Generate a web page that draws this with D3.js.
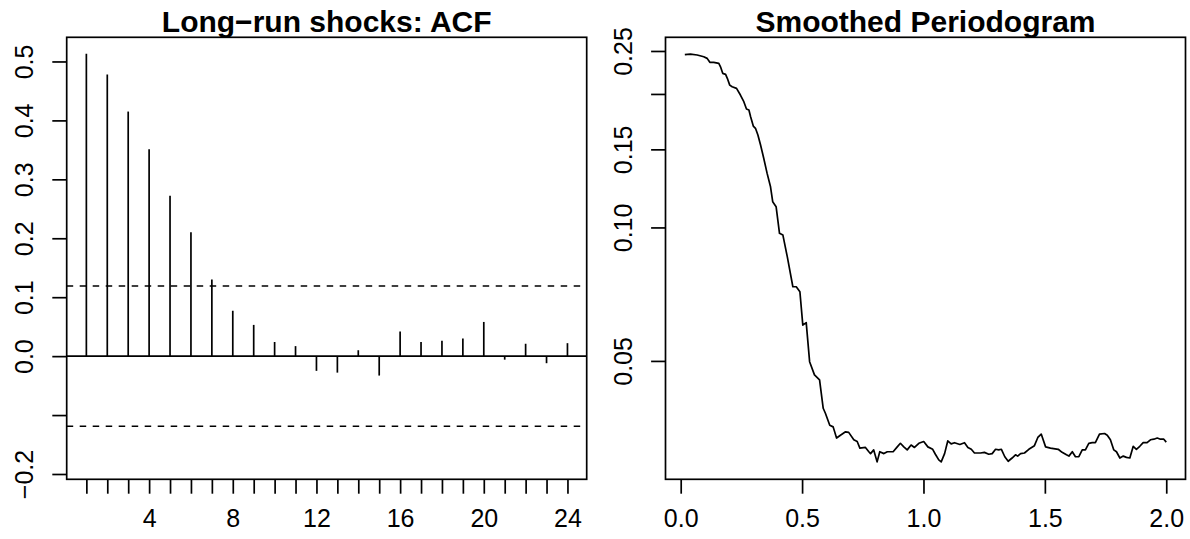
<!DOCTYPE html>
<html>
<head>
<meta charset="utf-8">
<script src="https://cdn.jsdelivr.net/npm/d3@7"></script>
<style>
  body { margin: 0; background: #fff; }
  svg { display: block; font-family: "Liberation Sans", Arial, Helvetica, sans-serif; }
</style>
</head>
<body>
<svg id="chart" width="1190" height="539"></svg>
<script>
// left panel: autocorrelations by lag
const acfLags = [1, 2, 3, 4, 5, 6, 7, 8, 9, 10, 11, 12, 13, 14, 15, 16, 17, 18, 19, 20, 21, 22, 23, 24];
const acfValues = [0.513, 0.478, 0.415, 0.351, 0.272, 0.21, 0.13, 0.077, 0.053, 0.024, 0.017, -0.025,
  -0.028, 0.01, -0.033, 0.042, 0.024, 0.026, 0.03, 0.058, -0.006, 0.021, -0.012, 0.022];
const acfCiBound = 0.119;
const lagTicks = [1, 2, 3, 4, 5, 6, 7, 8, 9, 10, 11, 12, 13, 14, 15, 16, 17, 18, 19, 20, 21, 22, 23, 24];
const lagLabels = [4, 8, 12, 16, 20, 24];
const acfTicks = [-0.2, -0.1, 0, 0.1, 0.2, 0.3, 0.4, 0.5];
const acfLabels = [-0.2, 0, 0.1, 0.2, 0.3, 0.4, 0.5];

// right panel: smoothed periodogram (log y)
const specFreq = [0.017, 0.04, 0.068, 0.095, 0.109, 0.12, 0.136, 0.157, 0.164, 0.173, 0.185, 0.192,
  0.202, 0.212, 0.23, 0.246, 0.26, 0.271, 0.281, 0.288, 0.299, 0.308, 0.318, 0.329, 0.342, 0.356,
  0.37, 0.379, 0.393, 0.407, 0.421, 0.439, 0.462, 0.476, 0.491, 0.503, 0.517, 0.531, 0.551, 0.572,
  0.587, 0.596, 0.614, 0.628, 0.642, 0.658, 0.679, 0.692, 0.713, 0.727, 0.738, 0.761, 0.775, 0.782,
  0.795, 0.809, 0.82, 0.837, 0.851, 0.875, 0.892, 0.905, 0.919, 0.933, 0.949, 0.963, 0.981, 1.001,
  1.018, 1.038, 1.049, 1.063, 1.073, 1.087, 1.1, 1.114, 1.128, 1.15, 1.169, 1.183, 1.197, 1.21,
  1.235, 1.251, 1.269, 1.283, 1.297, 1.31, 1.321, 1.335, 1.349, 1.365, 1.379, 1.388, 1.4, 1.416,
  1.434, 1.457, 1.471, 1.485, 1.503, 1.523, 1.555, 1.571, 1.589, 1.599, 1.613, 1.626, 1.64, 1.654,
  1.667, 1.681, 1.695, 1.708, 1.725, 1.746, 1.757, 1.77, 1.784, 1.795, 1.809, 1.823, 1.836, 1.85,
  1.864, 1.877, 1.891, 1.905, 1.921, 1.935, 1.949, 1.963, 1.976, 1.99, 2.0];
const specValues = [0.2452, 0.246, 0.2448, 0.2426, 0.2406, 0.2357, 0.2357, 0.2344, 0.2303, 0.2226,
  0.2214, 0.2169, 0.2094, 0.2076, 0.2059, 0.1989, 0.1921, 0.1849, 0.184, 0.1777, 0.1693, 0.1673,
  0.1616, 0.1534, 0.1432, 0.1324, 0.1235, 0.1143, 0.1114, 0.097, 0.0961, 0.0859, 0.0735, 0.0735,
  0.0716, 0.0602, 0.061, 0.0498, 0.0465, 0.0453, 0.0391, 0.0381, 0.0358, 0.0355, 0.0335, 0.034,
  0.0346, 0.0345, 0.0332, 0.0329, 0.0318, 0.0319, 0.0312, 0.0309, 0.0315, 0.0296, 0.0312, 0.0309,
  0.0312, 0.0312, 0.032, 0.0326, 0.032, 0.0315, 0.0323, 0.0319, 0.0326, 0.0329, 0.032, 0.0316,
  0.0308, 0.0299, 0.0296, 0.0309, 0.033, 0.0325, 0.0327, 0.0324, 0.0327, 0.0319, 0.0316, 0.031,
  0.031, 0.0311, 0.0308, 0.0309, 0.0316, 0.0315, 0.0316, 0.0304, 0.0297, 0.0302, 0.0307, 0.0305,
  0.0309, 0.031, 0.0316, 0.0322, 0.0336, 0.0342, 0.032, 0.0318, 0.0316, 0.0311, 0.0307, 0.0305,
  0.0312, 0.0304, 0.0304, 0.0315, 0.0315, 0.0326, 0.0327, 0.0327, 0.0342, 0.0343, 0.034, 0.0332,
  0.0315, 0.0312, 0.0302, 0.0305, 0.0303, 0.0302, 0.0321, 0.0316, 0.0321, 0.0327, 0.0327, 0.0332,
  0.0333, 0.0335, 0.0333, 0.0333, 0.0328];
const freqTicks = [0, 0.5, 1, 1.5, 2];
const specTicks = [0.05, 0.1, 0.15, 0.2, 0.25];
const specLabels = [0.05, 0.1, 0.15, 0.25];

const svg = d3.select("#chart");
const boxTop = 37.3,
  boxBottom = 479.3,
  boxWidth = 520,
  tickLen = 14.4,
  lineW = 1.7,
  axisFont = 25,
  titleFont = 30;

const drawPanel = (left, title) => {
  const g = svg.append("g");
  g.append("rect")
    .attr("x", left)
    .attr("y", boxTop)
    .attr("width", boxWidth)
    .attr("height", boxBottom - boxTop)
    .attr("fill", "none")
    .attr("stroke", "#000")
    .attr("stroke-width", lineW);
  g.append("text")
    .attr("x", left + boxWidth / 2)
    .attr("y", 32)
    .attr("text-anchor", "middle")
    .attr("font-size", titleFont)
    .attr("font-weight", "bold")
    .text(title);
  return g;
};

const drawAxes = (g, x, y, xTicks, xLabels, xFmt, yTicks, yLabels, yFmt) => {
  const xAxis = g
    .append("g")
    .attr("transform", `translate(0,${boxBottom})`)
    .call(
      d3
        .axisBottom(x)
        .tickValues(xTicks)
        .tickSize(tickLen)
        .tickFormat((d) => (xLabels.includes(d) ? xFmt(d) : ""))
    );
  xAxis.select(".domain").remove();
  xAxis.selectAll("text").attr("y", 47.5).attr("dy", 0);

  const yAxis = g
    .append("g")
    .attr("transform", `translate(${x.range()[0]},0)`)
    .call(
      d3
        .axisLeft(y)
        .tickValues(yTicks)
        .tickSize(tickLen)
        .tickFormat((d) => (yLabels.includes(d) ? yFmt(d) : ""))
    );
  yAxis.select(".domain").remove();
  yAxis
    .selectAll("text")
    .attr("transform", "rotate(-90)")
    .attr("x", 0)
    .attr("y", -33.4)
    .attr("dy", 0)
    .attr("text-anchor", "middle");

  g.selectAll(".tick line").attr("stroke", "#000").attr("stroke-width", lineW);
  g.selectAll(".tick text")
    .attr("fill", "#000")
    .attr("font-size", axisFont)
    .attr("font-family", "Liberation Sans, Arial, Helvetica, sans-serif");
};

// ACF panel
const acfLeft = 66.7;
const xLag = d3.scaleLinear().domain([0.06, 24.92]).range([acfLeft, acfLeft + boxWidth]);
const yAcf = d3.scaleLinear().domain([-0.209, 0.541]).range([boxBottom, boxTop]);
const acfPanel = drawPanel(acfLeft, "Long\u2212run shocks: ACF");

acfPanel
  .append("line")
  .attr("x1", acfLeft)
  .attr("x2", acfLeft + boxWidth)
  .attr("y1", yAcf(0))
  .attr("y2", yAcf(0))
  .attr("stroke", "#000")
  .attr("stroke-width", lineW);

acfPanel
  .selectAll(".ci")
  .data([acfCiBound, -acfCiBound])
  .join("line")
  .attr("class", "ci")
  .attr("x1", acfLeft)
  .attr("x2", acfLeft + boxWidth)
  .attr("y1", (d) => yAcf(d))
  .attr("y2", (d) => yAcf(d))
  .attr("stroke", "#000")
  .attr("stroke-width", lineW)
  .attr("stroke-dasharray", "6.5,6.5");

acfPanel
  .selectAll(".stem")
  .data(acfLags)
  .join("line")
  .attr("class", "stem")
  .attr("x1", (d) => xLag(d))
  .attr("x2", (d) => xLag(d))
  .attr("y1", yAcf(0))
  .attr("y2", (d, i) => yAcf(acfValues[i]))
  .attr("stroke", "#000")
  .attr("stroke-width", lineW);

drawAxes(acfPanel, xLag, yAcf, lagTicks, lagLabels, d3.format("d"), acfTicks, acfLabels, d3.format(".1f"));

// periodogram panel
const specLeft = 665.5;
const xFreq = d3.scaleLinear().domain([-0.0626, 2.0793]).range([specLeft, specLeft + boxWidth]);
const ySpec = d3.scaleLog().domain([0.02704, 0.2684]).range([boxBottom, boxTop]);
const specPanel = drawPanel(specLeft, "Smoothed Periodogram");

const specLine = d3
  .line()
  .x((d) => xFreq(d))
  .y((d, i) => ySpec(specValues[i]));

specPanel
  .append("path")
  .datum(specFreq)
  .attr("d", specLine)
  .attr("fill", "none")
  .attr("stroke", "#000")
  .attr("stroke-width", lineW)
  .attr("stroke-linejoin", "round");

drawAxes(specPanel, xFreq, ySpec, freqTicks, freqTicks, d3.format(".1f"), specTicks, specLabels, d3.format(".2f"));
</script>
</body>
</html>
